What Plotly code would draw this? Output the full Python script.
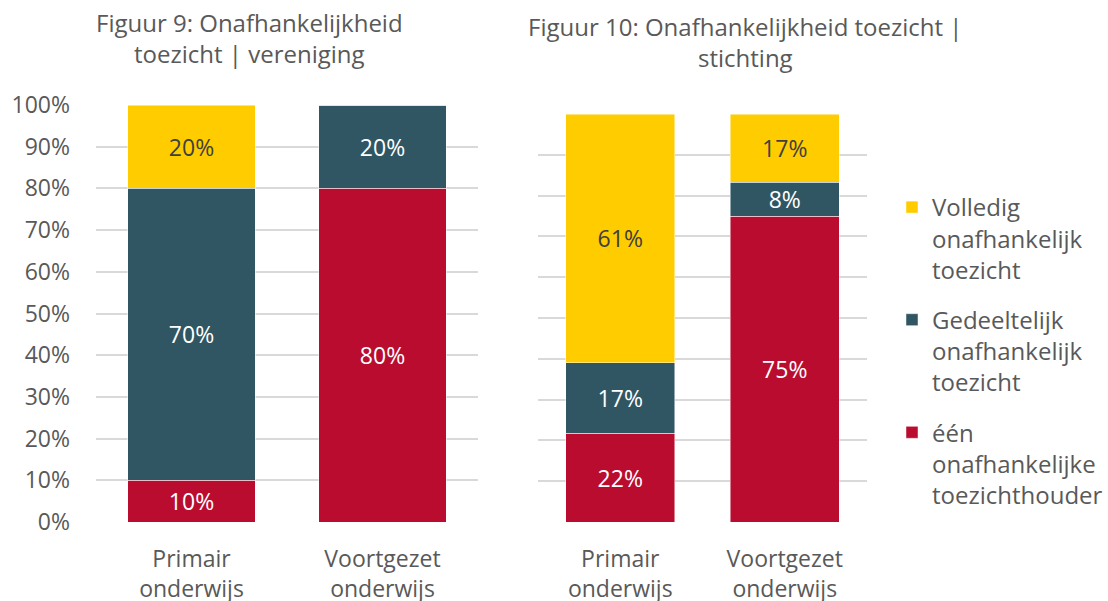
import plotly.graph_objects as go

categories = ["Primair<br>onderwijs", "Voortgezet<br>onderwijs"]
series_names = ["één<br>onafhankelijke<br>toezichthouder",
                "Gedeeltelijk<br>onafhankelijk<br>toezicht",
                "Volledig<br>onafhankelijk<br>toezicht"]
series_colors = ["#BA0C2F", "#305664", "#FFCC00"]
text_colors = ["#FFFFFF", "#FFFFFF", "#404040"]
legend_ranks = [3, 2, 1]

# Figuur 9: vereniging (percentages)
vereniging_een = [10, 80]
vereniging_gedeeltelijk = [70, 20]
vereniging_volledig = [20, 0]

# Figuur 10: stichting (percentages)
stichting_een = [21.7, 75.0]
stichting_gedeeltelijk = [17.3, 8.3]
stichting_volledig = [61.0, 16.7]

title_left_lines = ["Figuur 9: Onafhankelijkheid", "toezicht | vereniging"]
title_right_lines = ["Figuur 10: Onafhankelijkheid toezicht |", "stichting"]

FONT = "Open Sans"
W, H = 1108, 601

fig = go.Figure()

left_data = [vereniging_een, vereniging_gedeeltelijk, vereniging_volledig]
right_data = [stichting_een, stichting_gedeeltelijk, stichting_volledig]

for i, (name, col, tcol) in enumerate(zip(series_names, series_colors, text_colors)):
    for axis_idx, data in ((1, left_data[i]), (2, right_data[i])):
        fig.add_trace(go.Bar(
            x=categories, y=data, name=name,
            xaxis="x" if axis_idx == 1 else "x2",
            yaxis="y" if axis_idx == 1 else "y2",
            marker=dict(color=col, line=dict(color="rgba(255,255,255,0.6)", width=0.8)),
            text=[f"{round(v)}%" if v > 0 else "" for v in data],
            textposition="inside", insidetextanchor="middle", textangle=0,
            constraintext="none",
            textfont=dict(family=FONT, size=23, color=tcol),
            legendgroup=name, legendrank=legend_ranks[i],
            showlegend=(axis_idx == 2),
            hoverinfo="skip",
        ))

def px_x(p):
    return p / W

def px_y(p):
    return 1 - p / H

grid = dict(showgrid=True, gridcolor="#D9D9D9", gridwidth=1.5,
            zeroline=False, range=[0, 100], dtick=10, fixedrange=True)

annotations = []
for lines, cx, ys in ((title_left_lines, 250, (23, 53.5)),
                      (title_right_lines, 745, (27, 57.5))):
    for txt, yy in zip(lines, ys):
        annotations.append(dict(
            text=txt, x=px_x(cx), y=px_y(yy), xref="paper", yref="paper",
            xanchor="center", yanchor="middle", showarrow=False,
            font=dict(family=FONT, size=24, color="#595959")))

fig.update_layout(
    width=W, height=H, barmode="stack", bargap=0.335,
    margin=dict(l=0, r=0, t=0, b=0, autoexpand=False),
    paper_bgcolor="white", plot_bgcolor="white",
    font=dict(family=FONT, color="#595959"),
    xaxis=dict(domain=[px_x(96), px_x(478)], anchor="y", range=[-0.5, 1.5],
               tickfont=dict(family=FONT, size=23, color="#595959"),
               showline=False, ticklabelstandoff=21, automargin=False),
    yaxis=dict(domain=[px_y(522), px_y(105)], anchor="x", ticksuffix="%",
               tickfont=dict(family=FONT, size=23, color="#595959"),
               ticklabelstandoff=25, automargin=False, **grid),
    xaxis2=dict(domain=[px_x(538), px_x(867)], anchor="y2", range=[-0.5, 1.5],
                tickfont=dict(family=FONT, size=23, color="#595959"),
                showline=False, ticklabelstandoff=21, automargin=False),
    yaxis2=dict(domain=[px_y(522), px_y(114)], anchor="x2", showticklabels=False,
                automargin=False, **grid),
    legend=dict(x=px_x(892), y=px_y(185), xanchor="left", yanchor="top",
                traceorder="grouped", tracegroupgap=16, valign="top",
                font=dict(family=FONT, size=24, color="#595959"),
                bgcolor="rgba(0,0,0,0)"),
    annotations=annotations,
)

fig.write_html("out.html", config={"displayModeBar": False},
               post_script="document.body.style.margin='0';")
